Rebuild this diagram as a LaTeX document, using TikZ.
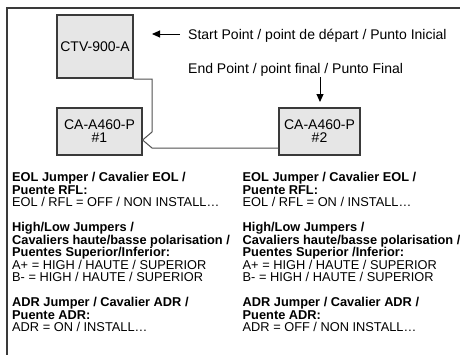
\documentclass[tikz,border=0pt]{standalone}
\usepackage{fontspec}
\setmainfont{Liberation Sans}
\usetikzlibrary{arrows.meta}
\definecolor{boxfill}{HTML}{E6E6E6}
\definecolor{boxline}{HTML}{3A3A3A}
\definecolor{wire}{HTML}{505050}
\tikzset{
  x=1bp, y=-1bp,
  devbox/.style={draw=boxline, line width=1.2bp, fill=boxfill, inner sep=0pt, align=center,
    font=\fontsize{14bp}{13bp}\selectfont},
  toplabel/.style={anchor=base west, inner sep=0pt, font=\fontsize{14bp}{14bp}\selectfont},
  note/.style={anchor=base west, inner sep=0pt, align=left, font=\fontsize{12.8bp}{12.5bp}\selectfont},
  wireline/.style={draw=wire, line width=1bp},
  pointer/.style={draw=black, line width=1bp, -{Triangle[length=8bp,width=7bp]}},
}
\begin{document}
\begin{tikzpicture}
\useasboundingbox (0,0) rectangle (460,355);
\fill[white] (0,0) rectangle (460,355);
% frame
\draw[boxline, line width=2bp] (460,7.5) -- (7,7.5) -- (7,355);
% boxes
\node[devbox, minimum width=76bp, minimum height=63bp] (ctv) at (95,46.5) {CTV-900-A};
\node[devbox, minimum width=85bp, minimum height=47bp] (ca1) at (99.5,131.5) {CA-A460-P\\\#1};
\node[devbox, minimum width=81bp, minimum height=47bp] (ca2) at (319.5,131.5) {CA-A460-P\\\#2};
% wires
\coordinate (w1) at (ctv.east |- 0,79);
\coordinate (w2) at (152,79);
\coordinate (w3) at (152,132);
\coordinate (w4) at (ca1.east |- 0,140);
\coordinate (w5) at (152,148);
\coordinate (w6) at (ca2.west |- 0,148);
\draw[wireline] (w1) -- (w2) -- (w3) -- (w4) -- (w5) -- (w6);
% labels and pointers
\node[toplabel] (start) at (188,39) {Start Point / point de départ / Punto Inicial};
\node[toplabel] (endp) at (188,73) {End Point / point final / Punto Final};
\coordinate (s1) at (180,34);
\coordinate (s2) at (152,34);
\draw[pointer] (s1) -- (s2);
\coordinate (e1) at (320,77);
\coordinate (e2) at (320,102);
\draw[pointer] (e1) -- (e2);
% notes left (anchor = baseline of last line)
\node[note] (l1) at (12,206.5) {\textbf{EOL Jumper / Cavalier EOL /}\\\textbf{Puente RFL:}\\EOL / RFL = OFF / NON INSTALL…};
\node[note] (l2) at (12,281.5) {\textbf{High/Low Jumpers /}\\\textbf{Cavaliers haute/basse polarisation /}\\\textbf{Puentes Superior/Inferior:}\\A+ = HIGH / HAUTE / SUPERIOR\\B- = HIGH / HAUTE / SUPERIOR};
\node[note] (l3) at (12,331.5) {\textbf{ADR Jumper / Cavalier ADR /}\\\textbf{Puente ADR:}\\ADR = ON / INSTALL…};
% notes right
\node[note] (r1) at (242.5,206.5) {\textbf{EOL Jumper / Cavalier EOL /}\\\textbf{Puente RFL:}\\EOL / RFL = ON / INSTALL…};
\node[note] (r2) at (242.5,281.5) {\textbf{High/Low Jumpers /}\\\textbf{Cavaliers haute/basse polarisation /}\\\textbf{Puentes Superior /Inferior:}\\A+ = HIGH / HAUTE / SUPERIOR\\B- = HIGH / HAUTE / SUPERIOR};
\node[note] (r3) at (242.5,331.5) {\textbf{ADR Jumper / Cavalier ADR /}\\\textbf{Puente ADR:}\\ADR = OFF / NON INSTALL…};
\end{tikzpicture}
\end{document}
